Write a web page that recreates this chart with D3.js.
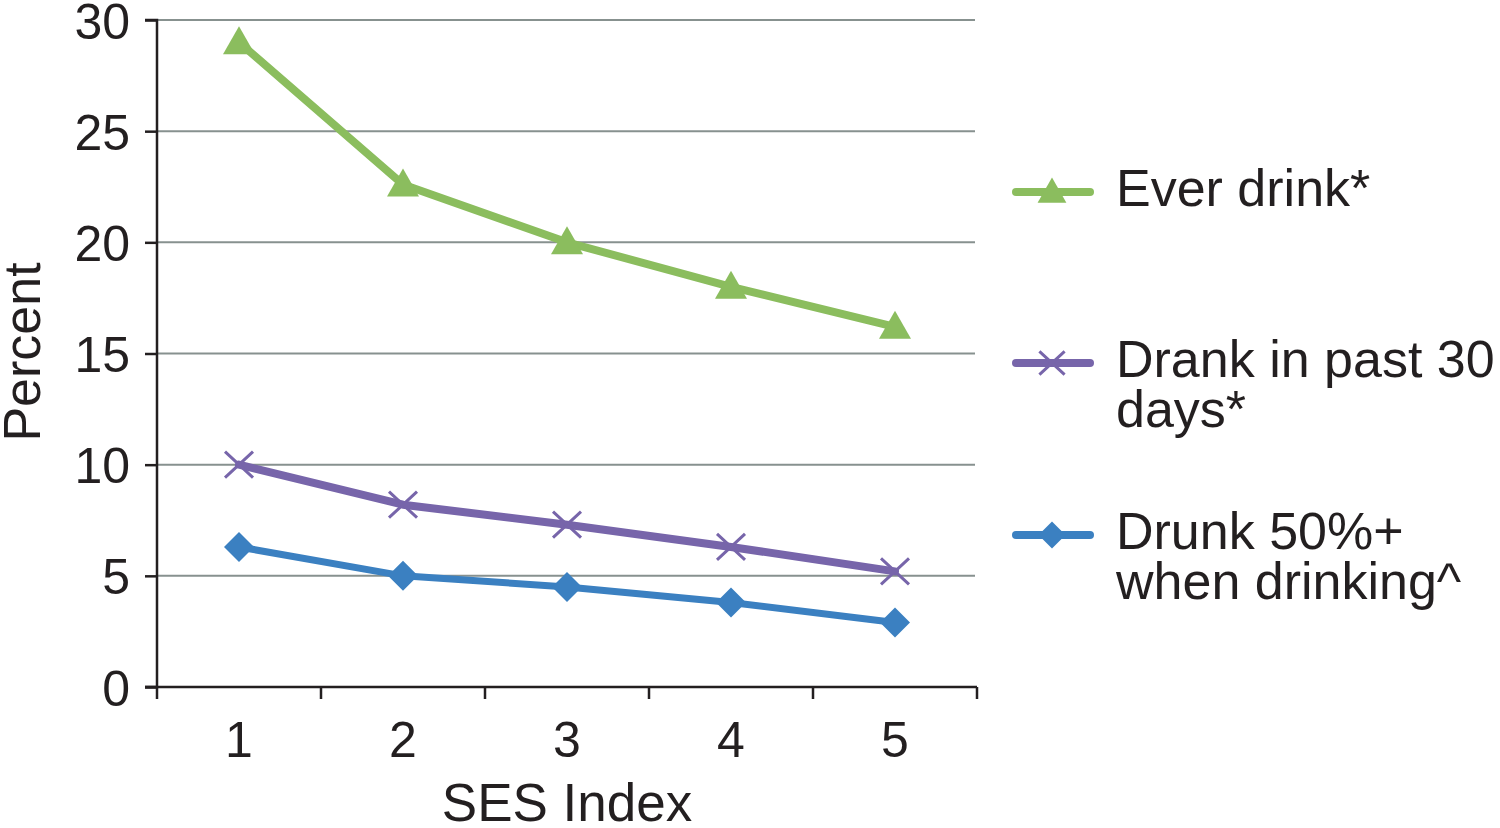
<!DOCTYPE html>
<html><head><meta charset="utf-8">
<script src="https://cdn.jsdelivr.net/npm/d3@7"></script>
<style>body{margin:0;background:#fff}svg{display:block}text{font-family:"Liberation Sans",Arial,Helvetica,sans-serif;fill:#231f20}</style>
</head><body>
<script>
const categories = ["1","2","3","4","5"];
const everDrink = [29.0, 22.6, 20.0, 18.0, 16.2];
const drankPast30 = [10.0, 8.2, 7.3, 6.3, 5.2];
const drunk50 = [6.3, 5.0, 4.5, 3.8, 2.9];
const yTicks = [0,5,10,15,20,25,30];
const seriesNames = [["Ever drink*"],["Drank in past 30","days*"],["Drunk 50%+","when drinking^"]];
const seriesColors = ["#8bbd5e","#7765aa","#3b80c1"];
const seriesWidths = [8,8,7];
const seriesShapes = ["triangle","x","diamond"];
const seriesValues = [everDrink, drankPast30, drunk50];

const W=1500,H=828;
const svg=d3.select("body").append("svg").attr("width",W).attr("height",H);
const x=d3.scaleBand().domain(categories).range([157,977]);
const y=d3.scaleLinear().domain([0,30]).range([687,20]);

// gridlines
svg.append("g").selectAll("line").data(yTicks.filter(d=>d>0)).join("line")
  .attr("x1",157).attr("x2",975).attr("y1",d=>y(d)).attr("y2",d=>y(d))
  .attr("stroke","#87918f").attr("stroke-width",2);

// y axis
const ya=svg.append("g").attr("transform","translate(157,0)")
  .call(d3.axisLeft(y).tickValues(yTicks).tickSize(12).tickPadding(15).tickFormat(d3.format("d")));
ya.select(".domain").attr("stroke","#231f20").attr("stroke-width",2.5).attr("d","M-12,20H0V687H-12");
ya.selectAll(".tick line").attr("stroke","#231f20").attr("stroke-width",2.5);
ya.selectAll(".tick text").attr("font-size",50).attr("fill","#231f20").attr("dy","0.36em").style("font-family","Liberation Sans, Arial");

// x axis
const xa=svg.append("g").attr("transform","translate(0,687)")
  .call(d3.axisBottom(x).tickSize(0).tickPadding(34));
xa.select(".domain").remove();
xa.selectAll(".tick text").attr("font-size",50).attr("fill","#231f20").style("font-family","Liberation Sans, Arial");
// category boundary ticks
const bounds=categories.map(c=>x(c)).concat([x(categories[categories.length-1])+x.bandwidth()]);
svg.append("g").selectAll("line").data(bounds).join("line")
  .attr("x1",d=>d).attr("x2",d=>d).attr("y1",687).attr("y2",699)
  .attr("stroke","#231f20").attr("stroke-width",2.5);
svg.append("line").attr("x1",145).attr("x2",977).attr("y1",687).attr("y2",687)
  .attr("stroke","#231f20").attr("stroke-width",2.5);

// axis titles
svg.append("text").attr("x",567).attr("y",821).attr("text-anchor","middle").attr("font-size",53).text("SES Index");
svg.append("text").attr("transform","translate(40,352) rotate(-90)").attr("text-anchor","middle").attr("font-size",52).text("Percent");

function marker(g,shape,color,cx,cy,s){
  s=s||1;
  if(shape==="triangle"){
    g.append("path").attr("d",`M${cx},${cy-16*s}L${cx+16*s},${cy+12*s}L${cx-16*s},${cy+12*s}Z`).attr("fill",color);
  } else if(shape==="diamond"){
    g.append("path").attr("d",`M${cx},${cy-15*s}L${cx+15*s},${cy}L${cx},${cy+15*s}L${cx-15*s},${cy}Z`).attr("fill",color);
  } else {
    g.append("path").attr("d",`M${cx-14*s},${cy-13*s}L${cx+14*s},${cy+13*s}M${cx-14*s},${cy+13*s}L${cx+14*s},${cy-13*s}`)
      .attr("stroke",color).attr("stroke-width",3).attr("fill","none");
  }
}

const line=d3.line().x((d,i)=>x(categories[i])+x.bandwidth()/2).y(d=>y(d));
seriesValues.forEach((vals,si)=>{
  const g=svg.append("g");
  g.append("path").attr("d",line(vals)).attr("fill","none").attr("stroke",seriesColors[si])
    .attr("stroke-width",seriesWidths[si]).attr("stroke-linejoin","round").attr("stroke-linecap","round");
  vals.forEach((v,i)=>marker(g,seriesShapes[si],seriesColors[si],x(categories[i])+x.bandwidth()/2,y(v)));
});

// legend
const legY=[192,363,535];
seriesNames.forEach((names,si)=>{
  const g=svg.append("g");
  g.append("line").attr("x1",1016).attr("x2",1090).attr("y1",legY[si]).attr("y2",legY[si])
    .attr("stroke",seriesColors[si]).attr("stroke-width",8).attr("stroke-linecap","round");
  marker(g,seriesShapes[si],seriesColors[si],1052,legY[si],0.9);
  names.forEach((t,li)=>{
    g.append("text").attr("x",1116).attr("y",legY[si]+14+li*50).attr("font-size",52).text(t);
  });
});
</script>
</body></html>
